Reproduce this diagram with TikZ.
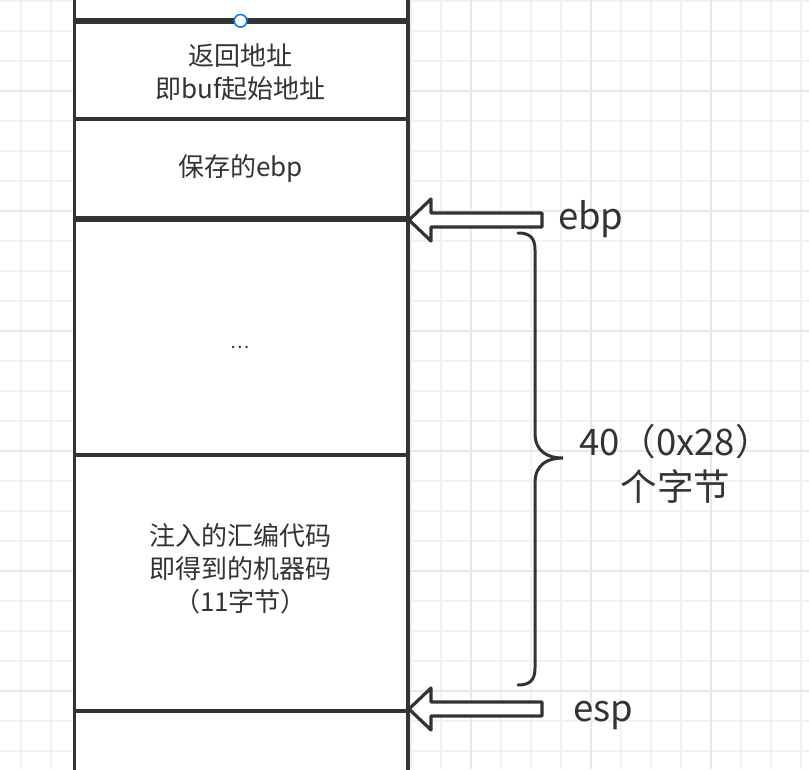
\documentclass[tikz,border=0pt]{standalone}
\usepackage{fontspec}
\setmainfont{Noto Sans CJK SC}
\definecolor{ink}{HTML}{333333}
\definecolor{gridminor}{HTML}{F2F2F2}
\definecolor{gridmajor}{HTML}{E8E8E8}
\definecolor{handleblue}{HTML}{0A7FF5}
\begin{document}
\begin{tikzpicture}[x=1pt,y=-1pt,
  minorline/.style={draw=gridminor,line width=1.2pt},
  majorline/.style={draw=gridmajor,line width=1.5pt},
  stackline/.style={draw=ink,line width=3.4pt},
  blockarrow/.style={draw=ink,fill=white,line width=3.2pt,line join=round},
  bracestyle/.style={draw=ink,line width=3pt,line cap=round},
  celltext/.style={text=ink,align=center,inner sep=0pt,font=\fontsize{26}{33}\selectfont},
  sidetext/.style={text=ink,align=center,inner sep=0pt,font=\fontsize{36.5}{45}\selectfont}]
\useasboundingbox (0,0) rectangle (809,769);
\fill[white] (0,0) rectangle (809,769);
% grid
\foreach \x in {21,51,...,801} \draw[minorline] (\x,0) -- (\x,769);
\foreach \y in {1,31,...,751} \draw[minorline] (0,\y) -- (809,\y);
\foreach \x in {111,231,...,711} \draw[majorline] (\x,0) -- (\x,769);
\foreach \y in {91,211,...,691} \draw[majorline] (0,\y) -- (809,\y);
% stack column
\fill[white] (74.3,0) rectangle (408,769);
\draw[stackline,line width=5.6pt] (74.3,21.2) -- (408,21.2);
\draw[stackline,line width=3.4pt] (74.3,119) -- (408,119);
\draw[stackline,line width=5.6pt] (74.3,218.8) -- (408,218.8);
\draw[stackline,line width=4pt] (74.3,455.3) -- (408,455.3);
\draw[stackline,line width=4pt] (74.3,710.7) -- (408,710.7);
\draw[stackline] (74.3,-3) -- (74.3,772);
\draw[stackline] (408,-3) -- (408,772);
% selection handle
\draw[draw=handleblue,fill=white,line width=1.6pt] (240.5,20.8) circle (6.3pt);
% cell texts
\node[celltext] (ret) at (240.5,72) {返回地址\\即buf起始地址};
\node[celltext] (saved) at (240.5,169) {保存的ebp};
\node[celltext,anchor=base,font=\fontsize{18}{20}\selectfont] (dots) at (240.5,348) {…};
\node[celltext] (code) at (240.5,569) {注入的汇编代码\\即得到的机器码\\（11字节）};
% pointers
\node[sidetext,anchor=base west] (ebplbl) at (558,229) {ebp};
\node[sidetext,anchor=base west] (esplbl) at (573,721) {esp};
\draw[blockarrow] (409,220) -- (431,199) -- (431,213) -- (542,213) -- (542,227) -- (431,227) -- (431,241) -- cycle;
\draw[blockarrow] (409,709) -- (431,688) -- (431,702) -- (542,702) -- (542,716) -- (431,716) -- (431,730) -- cycle;
% brace
\coordinate (btop) at (518,233);
\coordinate (bbot) at (518,685);
\coordinate (btip) at (563,458);
\draw[bracestyle] (btop) .. controls (530,233) and (535,238) .. (535,250) -- (535,433)
  .. controls (535,452) and (548,458) .. (btip)
  .. controls (548,458) and (535,464) .. (535,483) -- (535,668)
  .. controls (535,680) and (530,685) .. (bbot);
\node[sidetext] (bytes) at (675.5,464) {40（0x28）\\个字节};
\end{tikzpicture}
\end{document}
